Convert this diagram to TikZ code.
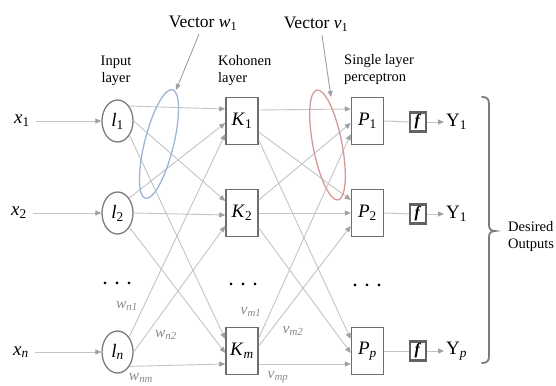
\documentclass[tikz,border=0pt]{standalone}
\usepackage{fontspec}
\setmainfont{Liberation Serif}
\usetikzlibrary{arrows.meta,shapes.geometric}
\definecolor{lc}{HTML}{C4C4C4}
\definecolor{ac}{HTML}{A0A0A0}
\definecolor{bc}{HTML}{6E6E6E}
\definecolor{cc}{HTML}{7C7C7C}
\definecolor{wc}{HTML}{8A8A8A}
\definecolor{blu}{HTML}{9DB5D6}
\definecolor{rd}{HTML}{D99999}
\newcommand\subl[2]{\textit{#1}\textsubscript{#2}}
\begin{document}
\begin{tikzpicture}[x=1pt,y=-1pt,
  inp/.style={ellipse,draw=cc,line width=1.3pt,minimum width=31pt,minimum height=42pt,inner sep=0pt,font=\fontsize{19}{19}\selectfont},
  kbox/.style={rectangle,draw=bc,line width=1.5pt,minimum width=32pt,minimum height=47pt,inner sep=0pt,font=\fontsize{19}{19}\selectfont},
  fbox/.style={rectangle,draw=bc!90!black,line width=2.6pt,minimum width=16pt,minimum height=19pt,inner sep=0pt,fill=white,font=\fontsize{16}{16}\selectfont},
  conn/.style={draw=lc,line width=0.9pt,-{Triangle[length=6pt,width=5pt,color=ac]}},
  plain/.style={draw=lc,line width=1pt},
  big/.style={font=\fontsize{19}{19}\selectfont,inner sep=1pt},
  layer/.style={font=\fontsize{14.5}{17}\selectfont,inner sep=0pt},
  wlab/.style={text=wc,font=\fontsize{15.5}{15.5}\selectfont,inner sep=0pt},
  dots/.style={font=\fontsize{16}{16}\selectfont\bfseries,inner sep=0pt},
  vec/.style={font=\fontsize{17.5}{17.5}\selectfont,inner sep=0pt},
  pointer/.style={draw=ac,line width=0.9pt,-{Triangle[length=6pt,width=5pt,color=ac]}}
]
\fill[white] (0,0) rectangle (556,385);
\useasboundingbox (0,0) rectangle (556,385);

% top labels
\node[vec] (Vw) at (203,23) {Vector \subl{w}{1}};
\node[vec] (Vv) at (316,24) {Vector \subl{v}{1}};
\node[layer,align=center] (Lin) at (116,71) {Input\\layer};
\node[layer,align=left,anchor=west] (Lk) at (218,71) {Kohonen\\layer};
\node[layer,align=left,anchor=west] (Lp) at (344,70) {Single layer\\perceptron};

% inputs
\node[big] (x1) at (22,121) {\subl{x}{1}};
\node[big] (x2) at (19,213) {\subl{x}{2}};
\node[big] (xn) at (21,352) {\subl{x}{\textit{n}}};

\node[inp] (I1) at (117.5,121) {\subl{l}{1}};
\node[inp] (I2) at (117.5,213) {\subl{l}{2}};
\node[inp] (In) at (117.5,352) {\subl{l}{\textit{n}}};

\node[kbox] (K1) at (242,121) {\subl{K}{1}};
\node[kbox] (K2) at (242,213) {\subl{K}{2}};
\node[kbox] (Km) at (242,351) {\subl{K}{\textit{m}}};

\node[kbox] (P1) at (367.5,121) {\subl{P}{1}};
\node[kbox] (P2) at (367.5,213) {\subl{P}{2}};
\node[kbox] (Pp) at (367.5,351) {\subl{P}{\textit{p}}};

\node[fbox] (f1) at (418,122) {\textbf{\textit{f}}};
\node[fbox] (f2) at (418,214) {\textbf{\textit{f}}};
\node[fbox] (fp) at (418,351) {\textbf{\textit{f}}};

\node[big,anchor=west,inner sep=2pt] (Y1) at (444,122) {Y\textsubscript{1}};
\node[big,anchor=west,inner sep=2pt] (Y2) at (444,214) {Y\textsubscript{1}};
\node[big,anchor=west,inner sep=2pt] (Yp) at (444,351) {Y\textsubscript{\textit{p}}};

% input arrows
\draw[conn] ([xshift=5pt]x1.east) -- (I1.west);
\draw[conn] ([xshift=5pt]x2.east) -- (I2.west);
\draw[conn] ([xshift=5pt]xn.east) -- (In.west);

% input -> kohonen
\foreach \s/\sa in {I1/12, I2/-2, In/-13}{
  \foreach \t/\da in {K1/52, K2/0, Km/-50}{
    \draw[conn] (\s.\da) -- ([yshift=\sa pt]\t.west);
  }
}

% kohonen -> perceptron
\foreach \s/\t/\d/\a in {K1/P1/11/12, K1/P2/-11/13, K1/Pp/-19/12,
                         K2/P1/13/-2, K2/P2/0/0, K2/Pp/-15/-2,
                         Km/P1/13/-13, Km/P2/5/-13, Km/Pp/-13/-13}{
  \draw[conn] ([yshift=\d pt]\s.east) -- ([yshift=\a pt]\t.west);
}

% outputs
\draw[plain] (P1.east) -- (f1.west);
\draw[plain] (P2.east) -- (f2.west);
\draw[plain] (Pp.east) -- (fp.west);
\draw[conn] (f1.east) -- (Y1.west);
\draw[conn] (f2.east) -- (Y2.west);
\draw[conn] (fp.east) -- (Yp.west);

% vector ellipses
\node[ellipse,draw=blu,line width=1.3pt,minimum width=112pt,minimum height=29pt,inner sep=0pt,rotate=76] (E1) at (159,144) {};
\node[ellipse,draw=rd,line width=1.3pt,minimum width=112pt,minimum height=29pt,inner sep=0pt,rotate=-79] (E2) at (327.5,145) {};
\coordinate (wt) at (176,90);
\coordinate (vt) at (331,97);
\draw[pointer] ([xshift=-4pt,yshift=-4pt]Vw.south) -- (wt);
\draw[pointer] ([xshift=6pt,yshift=-4pt]Vv.south) -- (vt);

% dots
\node[dots] (d1) at (117,283) {.\hspace{8pt}.\hspace{8pt}.};
\node[dots] (d2) at (243,284) {.\hspace{8pt}.\hspace{8pt}.};
\node[dots] (d3) at (367,285) {.\hspace{8pt}.\hspace{8pt}.};

% weight labels
\node[wlab] (wn1) at (127,306) {\subl{w}{\textit{n1}}};
\node[wlab] (wn2) at (166,335) {\subl{w}{\textit{n2}}};
\node[wlab] (wnm) at (141,378) {\subl{w}{\textit{nm}}};
\node[wlab] (vm1) at (251,312) {\subl{v}{\textit{m1}}};
\node[wlab] (vm2) at (293,331) {\subl{v}{\textit{m2}}};
\node[wlab] (vmp) at (278,377) {\subl{v}{\textit{mp}}};

% brace
\draw[cc,line width=1.8pt,line cap=round]
  (482,97) .. controls (487,97) and (489,99) .. (489,104) -- (489,225)
  .. controls (489,229) and (491,231) .. (495,231)
  .. controls (491,231) and (489,233) .. (489,237) -- (489,356)
  .. controls (489,361) and (487,363) .. (482,363);
\node[layer,align=left,anchor=west] (DO) at (508,237) {Desired\\Outputs};
\end{tikzpicture}
\end{document}
